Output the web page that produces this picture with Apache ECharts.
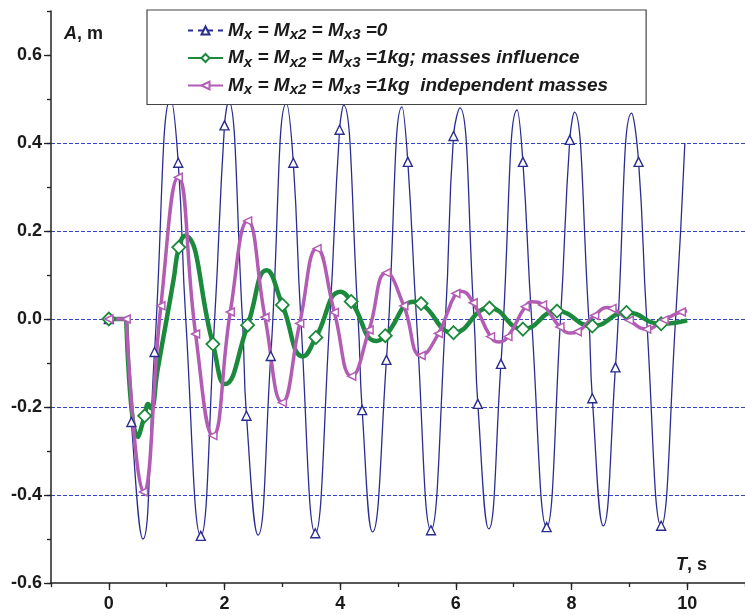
<!DOCTYPE html>
<html><head><meta charset="utf-8">
<script src="https://cdn.jsdelivr.net/npm/echarts@6/dist/echarts.min.js"></script>
<style>html,body{margin:0;padding:0;background:#fff}#c{width:745px;height:615px}</style>
</head><body><div id="c"></div>
<script>
// ---- tick labels ----
const xLabels = [0, 2, 4, 6, 8, 10];
const yLabels = [-0.6, -0.4, -0.2, 0, 0.2, 0.4, 0.6];

// ---- series names ----
const names = ['Mx=Mx2=Mx3=0', 'Mx=Mx2=Mx3=1kg; masses influence', 'Mx=Mx2=Mx3=1kg independent masses'];

// ---- blue: Mx = Mx2 = Mx3 = 0 ----
const blueStart = [[0, 0], [0.3, 0]];
const blueCurve = [[0.3,0],[0.59,-0.50],[1.07,0.50],[1.33,0],[1.83,0],[2.07,0.495],[2.31,0],[2.58,-0.491],
  [3.07,0.49],[3.32,0],[3.82,0],[4.06,0.486],[4.31,0],[4.56,-0.484],[5.07,0.482],[5.32,0],[5.82,0],[6.07,0.48],
  [6.315,0],[6.57,-0.477],[7.06,0.475],[7.31,0],[7.81,0],[8.05,0.47],[8.30,0],[8.55,-0.47],[9.04,0.468],
  [9.30,0],[9.80,0],[9.96,0.40]];
const blueMarks = [[0.39,-0.234],[0.79,-0.075],[1.20,0.355],[1.59,-0.493],[2.00,0.44],[2.38,-0.22],[2.80,-0.084],
  [3.19,0.355],[3.57,-0.487],[3.99,0.43],[4.38,-0.207],[4.80,-0.093],[5.17,0.357],[5.57,-0.48],[5.96,0.416],
  [6.38,-0.193],[6.78,-0.102],[7.16,0.357],[7.57,-0.473],[7.97,0.407],[8.36,-0.18],[8.76,-0.11],[9.16,0.357],[9.55,-0.47]];

// ---- green: masses influence ----
const greenStart = [[0, 0], [0.3, 0]];
const greenCurve = [[0.3,0],[0.5,-0.268],[0.68,-0.193],[0.73,-0.203],[0.84,-0.118],[1.0,0.0],[1.12,0.09],[1.31,0.189],
  [2.01,-0.148],[2.73,0.111],[3.36,-0.085],[4.01,0.062],[4.63,-0.05],[5.28,0.039],[10.0,-0.003]];
const greenMarks = [[0.62,-0.22],[1.21,0.163],[1.80,-0.057],[2.40,-0.014],[3.0,0.032],[3.58,-0.042],[4.19,0.04],
  [4.78,-0.038],[5.4,0.035],[5.96,-0.031],[6.58,0.025],[7.16,-0.023],[7.75,0.018],[8.36,-0.016],[8.95,0.015],[9.55,-0.011]];

// ---- magenta: independent masses ----
const magentaStart = [[0, 0], [0.3, 0]];
const magentaCurve = [[6.09,0.063],[6.74,-0.052],[7.33,0.039],[7.99,-0.032],[8.62,0.026],[10.0,0.018]];
const magentaMarks = [[0.3,0],[0.6,-0.393],[0.9,0.03],[1.2,0.322],[1.5,-0.034],[1.8,-0.265],[2.1,0.016],[2.4,0.223],
  [2.7,0.004],[3.0,-0.19],[3.3,-0.01],[3.6,0.16],[3.9,0.015],[4.2,-0.13],[4.5,-0.025],[4.8,0.105],[5.1,0.03],
  [5.4,-0.083],[5.7,-0.033],[6.0,0.058],[6.3,0.037],[6.6,-0.04],[6.9,-0.04],[7.2,0.028],[7.5,0.032],[7.8,-0.018],
  [8.1,-0.029],[8.4,0.008],[8.7,0.024],[9.0,-0.003],[9.3,-0.023],[9.6,-0.002],[9.9,0.016]];

function build(curve, marks) {
  const pts = curve.map(p => ({ value: p, symbol: 'none' })).concat(marks.map(p => ({ value: p })));
  pts.sort((a, b) => a.value[0] - b.value[0]);
  return pts;
}
function startData(arr) { return [{ value: arr[0] }, { value: arr[1], symbol: 'none' }]; }

const BLUE = '#2b2d8e', GREEN = '#1c8a3c', MAG = '#b25db3';
const FONT = 'Arial, "Liberation Sans", sans-serif';

const blueStyle = { symbol: 'triangle', symbolSize: 9, lineStyle: { color: BLUE, width: 1.3 },
  itemStyle: { color: '#fff', borderColor: BLUE, borderWidth: 1.4 } };
const greenStyle = { symbol: 'diamond', symbolSize: 13, lineStyle: { color: GREEN, width: 4.5 },
  itemStyle: { color: '#fff', borderColor: GREEN, borderWidth: 1.8 } };
const magStyle = { symbol: 'triangle', symbolRotate: 90, symbolSize: 8, lineStyle: { color: MAG, width: 3.5 },
  itemStyle: { color: '#fff', borderColor: MAG, borderWidth: 1.5 } };

function mk(name, data, st, smooth) {
  return Object.assign({ name, type: 'line', data, smooth, showSymbol: true, animation: false,
    emphasis: { disabled: true }, xAxisIndex: 0, yAxisIndex: 0 }, JSON.parse(JSON.stringify(st)));
}

const richLegend = {
  m: { fontFamily: FONT, fontWeight: 'bold', fontStyle: 'italic', fontSize: 19, color: '#1a1a1a', lineHeight: 24 },
  s: { fontFamily: FONT, fontWeight: 'bold', fontStyle: 'italic', fontSize: 15, color: '#1a1a1a', lineHeight: 10, verticalAlign: 'bottom' }
};
const legendText = {};
legendText[names[0]] = '{m|M}{s|x}{m| = M}{s|x2}{m| = M}{s|x3}{m| =0}';
legendText[names[1]] = '{m|M}{s|x}{m| = M}{s|x2}{m| = M}{s|x3}{m| =1kg; masses influence}';
legendText[names[2]] = '{m|M}{s|x}{m| = M}{s|x2}{m| = M}{s|x3}{m| =1kg  independent masses}';

const labelStyle = { fontFamily: FONT, fontWeight: 'bold', fontSize: 18, color: '#1a1a1a' };
const axisCol = '#222';

const option = {
  animation: false,
  grid: { left: 51, right: -21, top: 11, bottom: 32 },
  xAxis: [
    { type: 'value', min: -1, max: 11, interval: 1,
      axisLine: { show: true, onZero: false, lineStyle: { color: axisCol, width: 1.5 } },
      axisTick: { show: true, length: 4, lineStyle: { color: axisCol, width: 1.3 } },
      axisLabel: Object.assign({ customValues: xLabels, margin: 12, formatter: v => String(v) }, labelStyle),
      splitLine: { show: false } },
    { type: 'value', min: -1, max: 11, interval: 1, position: 'bottom',
      axisLine: { show: false, onZero: false }, axisLabel: { show: false }, splitLine: { show: false },
      axisTick: { show: true, customValues: xLabels, length: 7, lineStyle: { color: axisCol, width: 1.3 } } }
  ],
  yAxis: [
    { type: 'value', min: -0.6, max: 0.7, interval: 0.1, position: 'left',
      axisLine: { show: true, onZero: false, lineStyle: { color: axisCol, width: 1.5 } },
      axisTick: { show: true, length: 4, lineStyle: { color: axisCol, width: 1.3 } },
      axisLabel: Object.assign({ customValues: yLabels, margin: 9, formatter: v => v.toFixed(1) }, labelStyle),
      splitLine: { show: false } },
    { type: 'value', min: -0.6, max: 0.7, interval: 0.2, position: 'left',
      axisLine: { show: false, onZero: false }, axisLabel: { show: false },
      axisTick: { show: true, customValues: yLabels, length: 7, lineStyle: { color: axisCol, width: 1.3 } },
      splitLine: { show: true, showMinLine: false, showMaxLine: false,
        lineStyle: { color: '#3547c0', width: 1, type: [4, 2] } } }
  ],
  legend: {
    orient: 'vertical', left: 147, top: 10, padding: [11, 38, 7, 40],
    itemWidth: 35, itemHeight: 10, itemGap: 6,
    backgroundColor: '#fff', borderColor: '#444', borderWidth: 1.2,
    selectedMode: false,
    textStyle: { fontFamily: FONT, fontWeight: 'bold', fontStyle: 'italic', fontSize: 19, color: '#1a1a1a', rich: richLegend },
    formatter: n => legendText[n],
    data: [{ name: names[0], lineStyle: { type: [5, 5] } }, { name: names[1] }, { name: names[2] }]
  },
  graphic: [
    { type: 'text', left: 64, top: 25, z: 10,
      style: { text: '{i|A}{n|, m}', rich: {
        i: { fontFamily: FONT, fontWeight: 'bold', fontStyle: 'italic', fontSize: 18, fill: '#1a1a1a' },
        n: { fontFamily: FONT, fontWeight: 'bold', fontSize: 18, fill: '#1a1a1a' } } } },
    { type: 'text', left: 676, top: 556, z: 10,
      style: { text: '{i|T}{n|, s}', rich: {
        i: { fontFamily: FONT, fontWeight: 'bold', fontStyle: 'italic', fontSize: 18, fill: '#1a1a1a' },
        n: { fontFamily: FONT, fontWeight: 'bold', fontSize: 18, fill: '#1a1a1a' } } } }
  ],
  series: [
    mk(names[0], build(blueCurve, blueMarks), blueStyle, 0.5),
    mk(names[1], build(greenCurve, greenMarks), greenStyle, 0.5),
    mk(names[2], build(magentaCurve, magentaMarks), magStyle, 0.5),
    mk('blue0', startData(blueStart), blueStyle, false),
    mk('green0', startData(greenStart), greenStyle, false),
    mk('mag0', startData(magentaStart), magStyle, false)
  ]
};
const chart = echarts.init(document.getElementById('c'), null, { renderer: 'canvas' });
chart.setOption(option);
</script></body></html>
